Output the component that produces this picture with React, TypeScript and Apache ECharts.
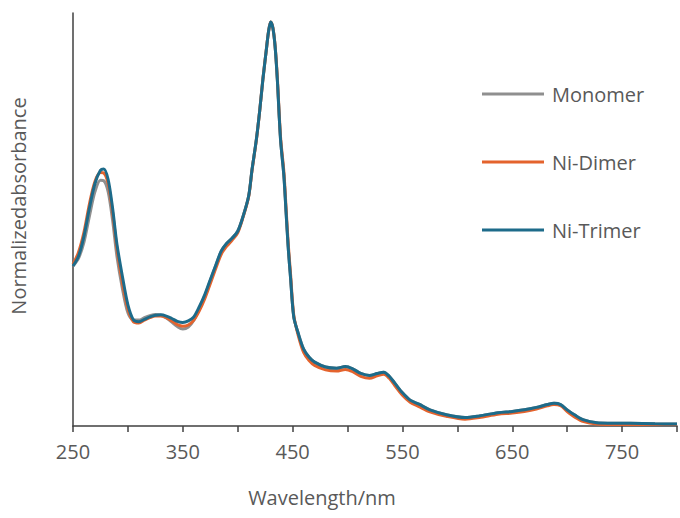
import React, { useEffect, useRef } from "react";
import * as echarts from "echarts";

const wavelengths = [250,255,260,265,270,275,278,282,286,290,295,300,305,310,315,320,325,330,335,340,345,350,355,360,365,370,375,380,385,390,395,400,405,410,413,417,420,423,426,428,430,432,434,436,439,442,444,446,448,451,455,460,465,470,480,490,498,505,512,520,527,533,538,543,550,557,565,575,590,607,620,637,650,661,672,682,688,694,700,707,715,727,740,757,780,800];

const monomer = [0.396,0.415,0.455,0.52,0.58,0.608,0.607,0.58,0.51,0.42,0.34,0.28,0.262,0.262,0.268,0.273,0.276,0.274,0.267,0.257,0.246,0.24,0.245,0.262,0.29,0.322,0.36,0.397,0.432,0.452,0.465,0.482,0.52,0.57,0.634,0.71,0.78,0.86,0.93,0.975,1.0,0.985,0.94,0.86,0.708,0.62,0.53,0.44,0.37,0.27,0.23,0.19,0.17,0.158,0.146,0.143,0.147,0.141,0.13,0.125,0.13,0.133,0.123,0.106,0.082,0.064,0.054,0.04,0.028,0.021,0.025,0.033,0.036,0.04,0.046,0.053,0.056,0.053,0.04,0.027,0.015,0.008,0.007,0.0066,0.0055,0.005];

const niDimer = [0.4,0.43,0.48,0.55,0.605,0.627,0.626,0.6,0.53,0.44,0.355,0.29,0.258,0.255,0.262,0.268,0.272,0.272,0.268,0.26,0.251,0.247,0.25,0.262,0.285,0.315,0.352,0.39,0.425,0.445,0.46,0.478,0.518,0.568,0.632,0.708,0.78,0.86,0.93,0.975,1.0,0.986,0.942,0.865,0.715,0.63,0.54,0.45,0.38,0.275,0.225,0.182,0.162,0.15,0.139,0.136,0.14,0.134,0.123,0.118,0.124,0.128,0.118,0.1,0.076,0.059,0.048,0.035,0.024,0.017,0.021,0.029,0.032,0.036,0.042,0.05,0.053,0.05,0.036,0.022,0.011,0.005,0.004,0.004,0.004,0.004];

const niTrimer = [0.396,0.42,0.47,0.54,0.6,0.633,0.636,0.61,0.54,0.45,0.37,0.3,0.263,0.258,0.264,0.27,0.274,0.275,0.272,0.266,0.259,0.256,0.26,0.27,0.295,0.325,0.362,0.398,0.433,0.452,0.465,0.482,0.52,0.57,0.634,0.71,0.78,0.86,0.93,0.975,1.0,0.985,0.94,0.86,0.708,0.62,0.53,0.44,0.37,0.27,0.23,0.19,0.17,0.158,0.146,0.143,0.147,0.141,0.13,0.125,0.13,0.133,0.123,0.106,0.082,0.064,0.054,0.04,0.028,0.021,0.025,0.033,0.036,0.04,0.046,0.053,0.056,0.053,0.04,0.027,0.015,0.008,0.007,0.0066,0.0055,0.005];

const seriesNames = ["Monomer", "Ni-Dimer", "Ni-Trimer"];
const seriesColors = ["#8f8f8f", "#e4632d", "#1d6b8a"];

const xTitle = "Wavelength/nm";
const yTitle = "Normalizedabsorbance";

const FONT = "'Open Sans', 'Noto Sans', sans-serif";
const TEXT_COLOR = "#595959";
const AXIS_COLOR = "#404040";
const FS = 20;

export default function App() {
  const ref = useRef<HTMLDivElement>(null);
  useEffect(() => {
    if (!ref.current) return;
    const chart = echarts.init(ref.current, null, { renderer: "svg" });
    const dataSets = [monomer, niDimer, niTrimer];
    chart.setOption({
      animation: false,
      backgroundColor: "#ffffff",
      grid: { left: 73, right: 0, top: 13, bottom: 92, containLabel: false },
      legend: {
        orient: "vertical",
        left: 477,
        top: 79,
        itemGap: 48,
        itemWidth: 62,
        itemHeight: 3,
        icon: "rect",
        data: seriesNames,
        textStyle: {
          color: TEXT_COLOR,
          fontSize: FS,
          fontFamily: FONT,
          lineHeight: 20,
          padding: [0, 0, 0, 3],
        },
      },
      graphic: [
        {
          type: "text",
          x: 322,
          y: 497,
          style: {
            text: xTitle,
            fill: TEXT_COLOR,
            font: `${FS}px ${FONT}`,
            align: "center",
            verticalAlign: "middle",
          },
        },
        {
          type: "text",
          x: 18,
          y: 206,
          rotation: Math.PI / 2,
          style: {
            text: yTitle,
            fill: TEXT_COLOR,
            font: `${FS}px ${FONT}`,
            align: "center",
            verticalAlign: "middle",
          },
        },
      ],
      xAxis: {
        type: "value",
        min: 250,
        max: 800,
        interval: 50,
        axisLine: { show: true, lineStyle: { color: AXIS_COLOR, width: 1.5 } },
        axisTick: { show: true, length: 6, lineStyle: { color: AXIS_COLOR, width: 1.5 } },
        axisLabel: {
          color: TEXT_COLOR,
          fontSize: FS,
          fontFamily: FONT,
          margin: 15,
          formatter: (v: number) => ((v - 250) % 100 === 0 && v < 800 ? String(v) : ""),
        },
        splitLine: { show: false },
      },
      yAxis: {
        type: "value",
        min: 0,
        max: 1.022,
        axisLine: { show: true, lineStyle: { color: AXIS_COLOR, width: 1.5 } },
        axisTick: { show: false },
        axisLabel: { show: false },
        splitLine: { show: false },
      },
      series: seriesNames.map((name, i) => ({
        name,
        type: "line",
        data: wavelengths.map((w, j) => [w, dataSets[i][j]]),
        smooth: 0.3,
        showSymbol: false,
        lineStyle: { color: seriesColors[i], width: 3 },
        itemStyle: { color: seriesColors[i] },
        z: i + 2,
      })),
    });
    return () => chart.dispose();
  }, []);
  return (
    <div
      ref={ref}
      style={{ position: "fixed", left: 0, top: 0, width: 680, height: 518 }}
    />
  );
}
